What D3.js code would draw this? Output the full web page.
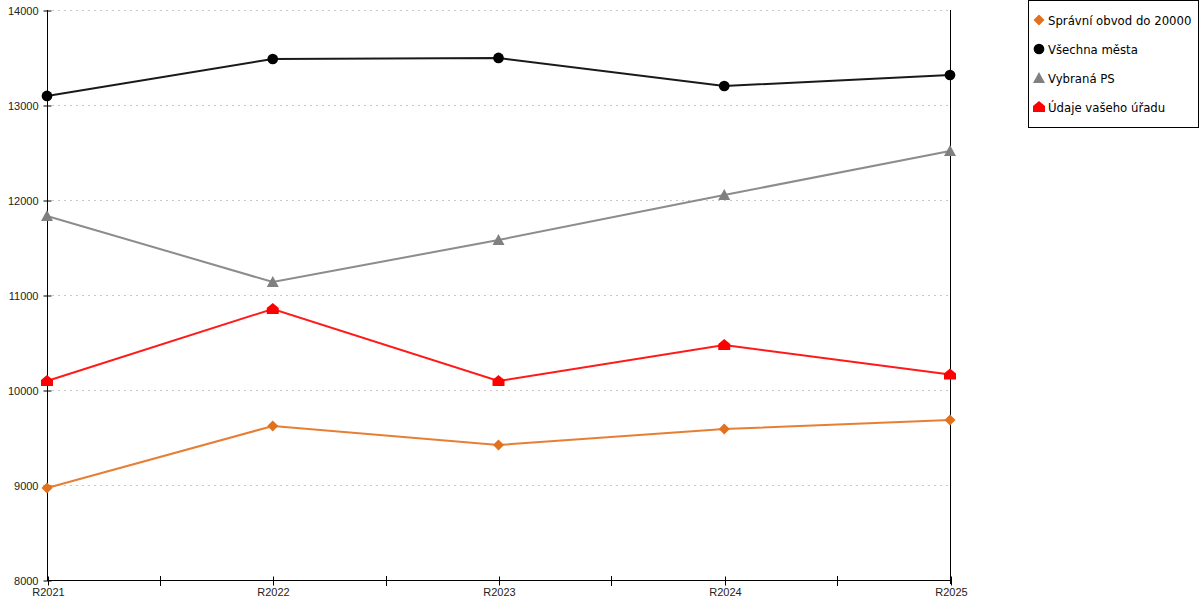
<!DOCTYPE html>
<html><head><meta charset="utf-8">
<script src="https://cdn.jsdelivr.net/npm/d3@7"></script>
<style>body{margin:0;background:#fff}svg{display:block;font-family:"DejaVu Sans Condensed","DejaVu Sans",Verdana,sans-serif;font-stretch:condensed}</style>
</head><body><svg id="c" width="1200" height="600"></svg>
<script>
const categories = ["R2021","R2022","R2023","R2024","R2025"];
const yTicks = [8000,9000,10000,11000,12000,13000,14000];
const seriesNames = ["Správní obvod do 20000","Všechna města","Vybraná PS","Údaje vašeho úřadu"];
const seriesColors = ["#e2711d","#000000","#808080","#ff0000"];
const seriesMarkers = ["diamond","circle","triangle","house"];
const valsObvod = [8968,9621,9421,9589,9684];
const valsMesta = [13095,13484,13495,13200,13316];
const valsPS = [11832,11137,11579,12053,12516];
const valsUrad = [10095,10853,10095,10474,10162];
const seriesValues = [valsObvod,valsMesta,valsPS,valsUrad];

const svg = d3.select("#c");
const x = d3.scalePoint().domain(categories).range([47,950]);
const y = d3.scaleLinear().domain([8000,14000]).range([580,10]);

// grid
svg.append("g").selectAll("line").data(yTicks.filter(t=>t>8000)).join("line")
  .attr("x1",52).attr("x2",948).attr("y1",d=>y(d)+0.5).attr("y2",d=>y(d)+0.5)
  .attr("stroke","#c8c8c8").attr("stroke-dasharray","2,4");

// y axis
const ya = svg.append("g").attr("transform","translate(47.5,0)")
  .call(d3.axisLeft(y).tickValues(yTicks).tickFormat(d3.format("d")).tickSize(4).tickSizeOuter(0));
ya.selectAll(".tick line").attr("x2",4).attr("x1",-4);
ya.select(".domain").attr("d","M0,10V580");
ya.selectAll("text").attr("font-size",11).attr("fill","#222").attr("x",-9);
ya.selectAll(".tick").each(function(){const t=d3.select(this);t.attr("transform",t.attr("transform").replace(/,([\d.]+)\)/,(m,v)=>","+(+v+0.5)+")"));});

// x axis
const xa = svg.append("g").attr("transform","translate(0,580.5)")
  .call(d3.axisBottom(x).tickSize(4).tickSizeOuter(0));
xa.select(".domain").attr("d","M47,0H950");
xa.selectAll(".tick line").attr("y1",-4).attr("y2",5);
xa.selectAll("text").attr("font-size",11).attr("fill","#222").attr("y",8);
xa.selectAll(".tick").each(function(){const t=d3.select(this);t.attr("transform",t.attr("transform").replace(/\(([\d.]+),/,(m,v)=>"("+(Math.round(+v)+0.5)+","));});
// midpoint ticks
const mids = categories.slice(1).map((c,i)=>(x(categories[i])+x(c))/2);
svg.append("g").selectAll("line").data(mids).join("line")
  .attr("x1",d=>Math.round(d)+0.5).attr("x2",d=>Math.round(d)+0.5).attr("y1",576).attr("y2",586)
  .attr("stroke","#000");
// right line
svg.append("line").attr("x1",950.5).attr("x2",950.5).attr("y1",10).attr("y2",584).attr("stroke","#000");

function markerPath(type){
  if(type==="diamond") return "M0,-5.5L5.5,0L0,5.5L-5.5,0Z";
  if(type==="circle") return d3.symbol(d3.symbolCircle,90)();
  if(type==="triangle") return "M0,-6L6,5L-6,5Z";
  return "M0,-6L6,-1L6,5L-6,5L-6,-1Z";
}

const line = d3.line().x((d,i)=>x(categories[i])).y(d=>y(d));
seriesValues.forEach((vals,k)=>{
  const g = svg.append("g");
  g.append("path").datum(vals).attr("d",line).attr("fill","none")
    .attr("stroke",seriesColors[k]).attr("stroke-width",2).attr("stroke-opacity",0.9);
  g.selectAll("path.m").data(vals).join("path").attr("class","m")
    .attr("transform",(d,i)=>`translate(${x(categories[i])},${y(d)})`)
    .attr("d",markerPath(seriesMarkers[k])).attr("fill",seriesColors[k]);
});

// legend
const lg = svg.append("g");
lg.append("rect").attr("x",1028.5).attr("y",0.5).attr("width",170).attr("height",127)
  .attr("fill","#fff").attr("stroke","#000");
seriesNames.forEach((n,k)=>{
  const yy = 20 + k*29;
  lg.append("path").attr("transform",`translate(1039,${yy})`)
    .attr("d",markerPath(seriesMarkers[k])).attr("fill",seriesColors[k]);
  lg.append("text").attr("x",1048).attr("y",yy+4.5).attr("font-size",13).attr("fill","#000").text(n);
});
</script></body></html>
